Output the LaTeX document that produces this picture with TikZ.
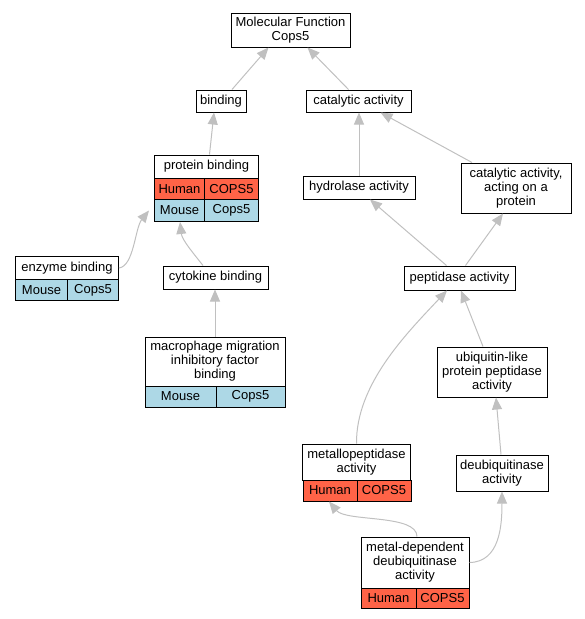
\documentclass[tikz,border=0pt]{standalone}
\usepackage{fontspec}
\setmainfont{Liberation Sans}
\usetikzlibrary{arrows.meta}
\definecolor{humanred}{RGB}{255,99,71}
\definecolor{mouseblue}{RGB}{173,216,230}
\definecolor{edgegray}{RGB}{192,192,192}
\tikzset{
  box/.style={draw=black, line width=1pt, fill=white, inner sep=0pt, align=center,
    font=\fontsize{13}{14}\selectfont},
  hum/.style={box, fill=humanred},
  mou/.style={box, fill=mouseblue},
  edge/.style={draw=edgegray, line width=1pt, -{Triangle[length=12pt,width=10pt]}}
}
\begin{document}
\begin{tikzpicture}[x=1pt,y=-1pt]
\useasboundingbox (0,0) rectangle (585,619);
% nodes
\node[box, minimum width=119, minimum height=34] (mf) at (290.5,30) {Molecular Function\\Cops5};
\node[box, minimum width=50, minimum height=22] (bind) at (221,101) {binding};
\node[box, minimum width=105, minimum height=22] (cat) at (358.5,101) {catalytic activity};
% protein binding
\node[box, minimum width=104, minimum height=23] (pbT) at (206.5,166.5) {protein binding};
\node[hum, minimum width=50, minimum height=21] (pbH) at (179.5,189) {Human};
\node[hum, minimum width=54, minimum height=21] (pbHg) at (231.5,189) {COPS5};
\node[mou, minimum width=50, minimum height=22] (pbM) at (179.5,210.5) {Mouse};
\node[mou, minimum width=54, minimum height=22] (pbMg) at (231.5,210.5) {Cops5};
\node[box, minimum width=112, minimum height=23] (hyd) at (359,187.5) {hydrolase activity};
\node[box, minimum width=110, minimum height=50] (cop) at (516,188) {catalytic activity,\\acting on a\\protein};
% enzyme binding
\node[box, minimum width=103, minimum height=23] (enzT) at (67,268) {enzyme binding};
\node[mou, minimum width=52, minimum height=21] (enzM) at (41.5,290) {Mouse};
\node[mou, minimum width=51, minimum height=21] (enzMg) at (93,290) {Cops5};
\node[box, minimum width=105, minimum height=23] (cyt) at (215.5,277.5) {cytokine binding};
\node[box, minimum width=111, minimum height=24] (pep) at (459.5,278) {peptidase activity};
% macrophage
\node[box, minimum width=140, minimum height=49] (macT) at (215,361.5) {macrophage migration\\inhibitory factor\\binding};
\node[mou, minimum width=71, minimum height=21] (macM) at (180.5,396.5) {Mouse};
\node[mou, minimum width=69, minimum height=21] (macMg) at (250.5,396.5) {Cops5};
\node[box, minimum width=110, minimum height=50] (ubq) at (492,372) {ubiquitin-like\\protein peptidase\\activity};
% metallopeptidase
\node[box, minimum width=108, minimum height=36] (metT) at (356.5,462) {metallopeptidase\\activity};
\node[hum, minimum width=54, minimum height=21] (metH) at (330,490.5) {Human};
\node[hum, minimum width=54, minimum height=21] (metHg) at (384,490.5) {COPS5};
\node[box, minimum width=92, minimum height=36] (deub) at (502,473) {deubiquitinase\\activity};
% metal-dependent
\node[box, minimum width=108, minimum height=51] (mdT) at (415,562.5) {metal-dependent\\deubiquitinase\\activity};
\node[hum, minimum width=55, minimum height=20] (mdH) at (388.5,598) {Human};
\node[hum, minimum width=53, minimum height=20] (mdHg) at (442.5,598) {COPS5};
% edges
\draw[edge] ([xshift=11pt]bind.north) -- ([xshift=-22pt]mf.south);
\draw[edge] ([xshift=-10pt]cat.north) -- ([xshift=17pt]mf.south);
\draw[edge] ([xshift=3pt]pbT.north) -- ([xshift=-7pt]bind.south);
\draw[edge] (hyd.north) -- (hyd.north |- cat.south);
\draw[edge] ([xshift=-44pt]cop.north) -- ([xshift=22pt]cat.south);
\draw[edge] (enzT.east) .. controls (134,266) and (135,228) .. ([shift={(-5,0)}]pbM.west);
\draw[edge] ([xshift=-12.5pt]cyt.north) .. controls (194,254) and (182,240) .. ([xshift=0.5pt]pbM.south);
\draw[edge] (macT.north) -- (macT.north |- cyt.south);
\draw[edge] ([xshift=-13pt]pep.north) -- ([xshift=11pt]hyd.south);
\draw[edge] ([xshift=6pt]pep.north) -- ([xshift=-13pt]cop.south);
\draw[edge] (metT.north) .. controls (356,385) and (405,335) .. ([xshift=-12.5pt]pep.south);
\draw[edge] ([xshift=-9pt]ubq.north) -- ([xshift=1.5pt]pep.south);
\draw[edge] ([xshift=-1pt]deub.north) -- ([xshift=4pt]ubq.south);
\draw[edge] ([xshift=2pt]mdT.north) .. controls (417,514) and (346,522) .. ([xshift=-1pt]metH.south);
\draw[edge] (mdT.east) .. controls (500,562) and (502,525) .. (deub.south);
\end{tikzpicture}
\end{document}
